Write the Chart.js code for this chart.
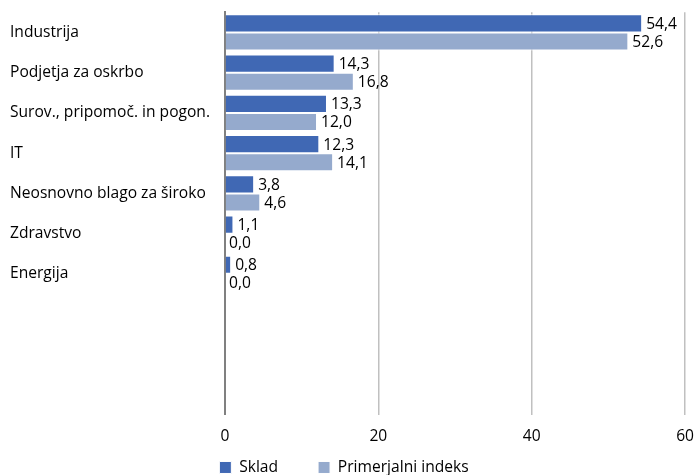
<!DOCTYPE html>
<html>
<head>
<meta charset="utf-8">
<script src="https://cdn.jsdelivr.net/npm/chart.js@4"></script>
<style>
	body { margin: 0; background: #ffffff; }
	#wrap { width: 694px; height: 475px; }
</style>
</head>
<body>
<div id="wrap"><canvas id="sector-chart"></canvas></div>
<script>
/* Chart data. */
const categories = ["Industrija", "Podjetja za oskrbo", "Surov., pripomoč. in pogon.", "IT", "Neosnovno blago za široko", "Zdravstvo", "Energija", "", "", ""];
const skladValues = [54.4, 14.3, 13.3, 12.3, 3.8, 1.1, 0.8, null, null, null];
const indexValues = [52.6, 16.8, 12.0, 14.1, 4.6, 0.0, 0.0, null, null, null];
const xTicks = [0, 20, 40, 60];

const fontFamily = "'Open Sans', 'Noto Sans', sans-serif";
const fontSize = 15.6;

/* Draw the value labels at the end of each bar. */
const barLabels = {
	id: "barLabels",
	afterDatasetsDraw(chart)
	{
		const ctx = chart.ctx;
		ctx.save();
		ctx.font = fontSize + "px " + fontFamily;
		ctx.fillStyle = "#000000";
		ctx.textBaseline = "middle";
		ctx.textAlign = "left";
		chart.data.datasets.forEach((ds, i) =>
		{
			chart.getDatasetMeta(i).data.forEach((bar, j) =>
			{
				const v = ds.data[j];
				if (v === null || v === undefined) return;
				ctx.fillText(v.toFixed(1).replace(".", ","), bar.x + 4, bar.y + 1);
			});
		});
		ctx.restore();
	},
};

/* Pull the legend up under the axis labels (its label padding is also the item gap). */
const legendShift = {
	id: "legendShift",
	afterLayout(chart)
	{
		const lg = chart.legend;
		const h = lg.bottom - lg.top;
		lg.top = chart.chartArea.bottom + 5;
		lg.bottom = lg.top + h;
		lg.left -= 8;
		lg.right -= 8;
	},
};

const sectorChart = new Chart(

	document.getElementById("sector-chart"),
	{
		type: "bar",
		data:
		{
			labels: categories,
			datasets:
			[
				{
					label: "Sklad",
					data: skladValues,
					backgroundColor: "#4068B4",
					borderColor: "#ffffff",
					borderWidth: 1,
					categoryPercentage: 0.9,
					barPercentage: 1.0,
				},
				{
					label: "Primerjalni indeks",
					data: indexValues,
					backgroundColor: "#95AACD",
					borderColor: "#ffffff",
					borderWidth: 1,
					categoryPercentage: 0.9,
					barPercentage: 1.0,
				},
			],
		},
		options:
		{
			indexAxis: "y",
			responsive: true,
			maintainAspectRatio: false,
			animation: false,
			layout:
			{
				padding: { left: 10, right: 0, top: 12, bottom: -37 },
			},
			scales:
			{
				x:
				{
					min: 0,
					max: 60,
					afterBuildTicks: (axis) => { axis.ticks = xTicks.map((v) => ({ value: v })); },
					grid:
					{
						color: "#C0C0C0",
						lineWidth: 1.5,
						drawTicks: true,
						tickLength: 13,
						tickColor: "rgba(0,0,0,0)",
					},
					border: { display: false },
					ticks:
					{
						color: "#000000",
						font: { family: fontFamily, size: fontSize },
						padding: 0,
					},
				},
				y:
				{
					afterFit: (axis) => { axis.width = 215; },
					grid: { display: false },
					border: { color: "#808080", width: 2 },
					ticks:
					{
						crossAlign: "far",
						color: "#000000",
						font: { family: fontFamily, size: fontSize },
					},
				},
			},
			plugins:
			{
				legend:
				{
					position: "bottom",
					labels:
					{
						boxWidth: 12,
						boxHeight: 12,
						color: "#000000",
						padding: 40,
						font: { family: fontFamily, size: fontSize },
					},
				},
				tooltip: { enabled: false },
			},
		},
		plugins: [barLabels, legendShift],
	}
)
</script>
</body>
</html>
